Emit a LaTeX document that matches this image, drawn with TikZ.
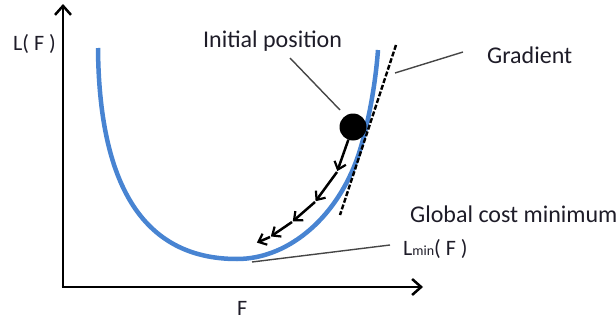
\documentclass[tikz,border=0pt]{standalone}
\usepackage{fontspec}
\setmainfont{Carlito}
\usetikzlibrary{arrows.meta}
\definecolor{curveblue}{RGB}{72,132,210}
\definecolor{txt}{RGB}{30,28,40}
\definecolor{leader}{RGB}{70,70,70}
\tikzset{
  axis/.style={line width=2.6pt, -{Straight Barb[length=9pt,width=16pt,line width=2.5pt]}},
  lbl/.style={font=\fontsize{24}{24}\selectfont, text=txt, inner sep=0pt, anchor=base west},
  smalllbl/.style={lbl, font=\fontsize{22}{22}\selectfont},
  leaderline/.style={leader, line width=1.4pt},
  stepar/.style={line width=2.5pt, -{Straight Barb[length=7pt,width=12pt,line width=2.2pt]}, shorten >=1pt},
}
\begin{document}
\begin{tikzpicture}[x=1pt,y=-1pt]
\useasboundingbox (0,0) rectangle (616,324);
% axes
\coordinate (O) at (63,287);
\coordinate (ytop) at (63,4);
\coordinate (xend) at (423,287);
\draw[axis] (O) -- (ytop);
\draw[axis] ([xshift=-1.3pt]O) -- (xend);
% curve
\draw[curveblue, line width=4.5pt] (98,48) .. controls (99,180) and (140,259) .. (237,259)
  .. controls (290,259) and (340,215) .. (360,150)
  .. controls (367,127) and (375,90) .. (378,50);
% tangent
\coordinate (t1) at (396,45);
\coordinate (t2) at (340,215);
\draw[line width=2.4pt, dash pattern=on 5pt off 2pt] (t1) -- (t2);
% ball
\node[circle, fill=black, minimum size=27pt, inner sep=0pt] (ball) at (353,127) {};
% steps
\coordinate (s1) at (337,172);
\coordinate (s2) at (315,202);
\coordinate (s3) at (292,222);
\coordinate (s4) at (270,237);
\coordinate (s5) at (256,243);
\draw[stepar] (ball.-110) -- (s1);
\draw[stepar] (s1) -- (s2);
\draw[stepar] (s2) -- (s3);
\draw[stepar] (s3) -- (s4);
\draw[stepar] (s4) -- (s5);
% labels
\node[smalllbl] (lf) at (13,50) {L( F )};
\node[lbl] (ip) at (203,47) {Initial position};
\node[lbl] (gr) at (487,63) {Gradient};
\node[lbl] (gcm) at (410,222) {Global cost minimum};
\node[smalllbl] (lmin) at (403,255) {L{\fontsize{14}{14}\selectfont min}( F )};
\node[smalllbl] (fx) at (237,315) {F};
% leaders
\coordinate (ipa) at (290,58);
\coordinate (ipb) at (340,110);
\draw[leaderline] (ipa) -- (ipb);
\coordinate (gra) at (395,73);
\coordinate (grb) at (463,52);
\draw[leaderline] (gra) -- (grb);
\coordinate (lma) at (252,262);
\coordinate (lmb) at (390,245);
\draw[leaderline] (lma) -- (lmb);
\end{tikzpicture}
\end{document}
